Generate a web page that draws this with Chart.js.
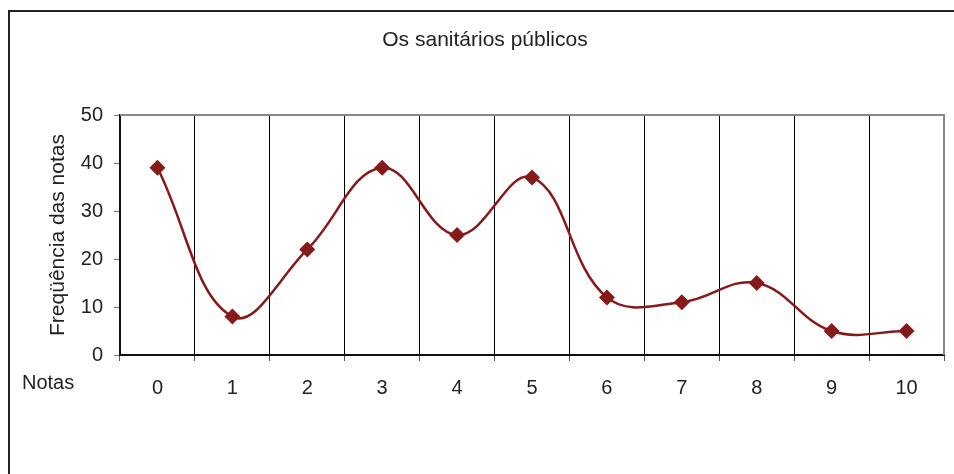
<!DOCTYPE html>
<html>
<head>
<meta charset="utf-8">
<script src="https://cdn.jsdelivr.net/npm/chart.js@4/dist/chart.umd.min.js"></script>
<style>
  html, body { margin: 0; padding: 0; background: #fff; overflow: hidden; }
  #wrap { position: relative; width: 954px; height: 474px; }
  #frame { position: absolute; left: 8px; top: 10px; width: 1000px; height: 1000px; border: 2px solid #222; box-sizing: border-box; }
  canvas { position: absolute; left: 0; top: 0; }
</style>
</head>
<body>
<div id="wrap">
  <div id="frame"></div>
  <canvas id="chart" width="954" height="474"></canvas>
</div>
<script>
// dados do gráfico
const notas = ['0', '1', '2', '3', '4', '5', '6', '7', '8', '9', '10'];
const frequencias = [39, 8, 22, 39, 25, 37, 12, 11, 15, 5, 5];
const tituloGrafico = 'Os sanitários públicos';
const tituloEixoY = 'Freqüência das notas';
const rotuloEixoX = 'Notas';

const FONT = "'Liberation Sans', Arial, sans-serif";
const COR_LINHA = '#861a1a';

// título, rótulo "Notas" e moldura superior/direita da área de plotagem
const extras = {
  id: 'extras',
  beforeDatasetsDraw(chart) {
    const { ctx, chartArea: a } = chart;
    ctx.save();
    ctx.strokeStyle = '#888';
    ctx.lineWidth = 2;
    ctx.beginPath();
    ctx.moveTo(a.left, a.top);
    ctx.lineTo(a.right, a.top);
    ctx.lineTo(a.right, a.bottom);
    ctx.stroke();
    ctx.restore();
  },
  afterDraw(chart) {
    const { ctx } = chart;
    ctx.save();
    ctx.fillStyle = '#222';
    ctx.textBaseline = 'alphabetic';
    ctx.font = '21px ' + FONT;
    ctx.textAlign = 'center';
    ctx.fillText(tituloGrafico, 485, 46);
    ctx.font = '20px ' + FONT;
    ctx.textAlign = 'left';
    ctx.fillText(rotuloEixoX, 22, 389);
    ctx.restore();
  }
};

new Chart(document.getElementById('chart'), {
  type: 'line',
  data: {
    labels: notas,
    datasets: [{
      data: frequencias,
      borderColor: COR_LINHA,
      backgroundColor: COR_LINHA,
      borderWidth: 2.5,
      tension: 0.4,
      pointStyle: 'rectRot',
      pointRadius: 8,
      pointHoverRadius: 8,
      pointBorderWidth: 0,
      clip: false
    }]
  },
  options: {
    responsive: false,
    animation: false,
    layout: { padding: { top: 115, right: 10, left: 0, bottom: 0 } },
    plugins: { legend: { display: false }, title: { display: false }, tooltip: { enabled: false } },
    scales: {
      x: {
        type: 'category',
        offset: true,
        grid: { offset: true, color: '#000', lineWidth: 1, tickLength: 6, tickColor: '#555' },
        border: { color: '#111', width: 2 },
        ticks: { color: '#222', font: { family: FONT, size: 20 }, padding: 15, maxRotation: 0 },
        afterFit(s) { s.height = 119; }
      },
      y: {
        min: 0,
        max: 50,
        ticks: { stepSize: 10, color: '#222', font: { family: FONT, size: 20 }, padding: 11 },
        grid: { drawOnChartArea: false, tickLength: 6, color: '#777' },
        border: { color: '#111', width: 2 },
        title: { display: true, text: tituloEixoY, color: '#222', font: { family: FONT, size: 21 }, padding: { top: 46, bottom: 0 } },
        afterFit(s) { s.width = 120; }
      }
    }
  },
  plugins: [extras]
});
</script>
</body>
</html>
